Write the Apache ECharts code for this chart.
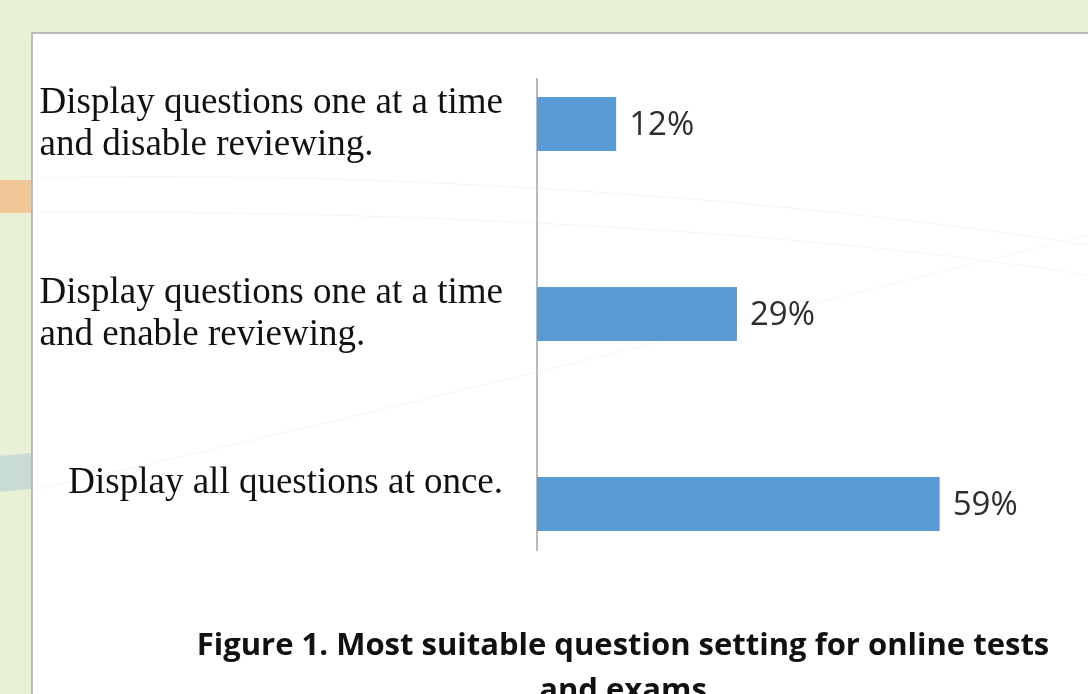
<!DOCTYPE html>
<html>
<head>
<meta charset="utf-8">
<script src="https://cdn.jsdelivr.net/npm/echarts@6/dist/echarts.min.js"></script>
<style>
  html, body { margin: 0; padding: 0; }
  #chart { width: 1088px; height: 694px; }
</style>
</head>
<body>
<div id="chart"></div>
<script>
// categories, top to bottom
var categories = [
    "Display questions one at a time\nand disable reviewing.",
    "Display questions one at a time\nand enable reviewing.",
    "Display all questions at once.\n"
];
// share of respondents (%)
var shares = [11.6, 29.3, 59.0];
var titleLines = ["Figure 1. Most suitable question setting for online tests", "and exams"];

var myChart = echarts.init(document.getElementById("chart"));

function richLabel(s) {
    return s.split("\n").map(function (l) { return "{a|" + (l || " ") + "}"; }).join("\n");
}

var option = {
    backgroundColor: "#e8f0d5",
    animation: false,
    graphic: [
        // slide panel
        { type: "rect", z: -10, shape: { x: 32, y: 33, width: 1070, height: 700 },
          style: { fill: "#ffffff", stroke: "#a6a6a6", lineWidth: 1.5 } },
        // side stripes
        { type: "rect", z: -10, shape: { x: 0, y: 180, width: 31, height: 33 },
          style: { fill: "#f1c797" } },
        { type: "polygon", z: -10, shape: { points: [[0, 456], [31, 453], [31, 489], [0, 492]] },
          style: { fill: "#c8dcd5" } },
        // faint decorative curves
        { type: "bezierCurve", z: -9, shape: { x1: 34, y1: 178, x2: 1088, y2: 245, cpx1: 400, cpy1: 170, cpx2: 800, cpy2: 200 },
          style: { stroke: "rgba(235,235,215,0.35)", lineWidth: 1.2, fill: null } },
        { type: "bezierCurve", z: -9, shape: { x1: 34, y1: 212, x2: 1088, y2: 275, cpx1: 400, cpy1: 210, cpx2: 800, cpy2: 230 },
          style: { stroke: "rgba(235,235,215,0.35)", lineWidth: 1.2, fill: null } },
        { type: "bezierCurve", z: -9, shape: { x1: 34, y1: 490, x2: 1088, y2: 235, cpx1: 350, cpy1: 420, cpx2: 750, cpy2: 320 },
          style: { stroke: "rgba(235,235,215,0.35)", lineWidth: 1.2, fill: null } },
        // category axis line
        { type: "line", z: 5, shape: { x1: 537, y1: 78, x2: 537, y2: 551 },
          style: { stroke: "#8c8c8c", lineWidth: 1.2 } },
        // caption
        { type: "text", z: 5, style: { text: titleLines[0], x: 623, y: 646, align: "center", verticalAlign: "middle",
            font: "bold 31px 'Open Sans', sans-serif", fill: "#111111" } },
        { type: "text", z: 5, style: { text: titleLines[1], x: 623, y: 691, align: "center", verticalAlign: "middle",
            font: "bold 31px 'Open Sans', sans-serif", fill: "#111111" } }
    ],
    grid: {
        left: 537,
        right: 5,
        top: 29,
        bottom: 95,
        containLabel: false
    },
    xAxis: {
        type: "value",
        min: 0,
        max: 80,
        show: false
    },
    yAxis: {
        type: "category",
        inverse: true,
        data: categories,
        axisLine: { show: false },
        axisTick: { show: false },
        axisLabel: {
            margin: 34,
            align: "right",
            formatter: function (v) { return richLabel(v); },
            rich: {
                a: {
                    align: "left",
                    fontFamily: "'Liberation Serif', serif",
                    fontSize: 37,
                    lineHeight: 42,
                    color: "#111111"
                }
            }
        }
    },
    series: [{
        type: "bar",
        data: shares,
        barWidth: 54,
        itemStyle: { color: "#5b9bd5" },
        label: {
            show: true,
            position: "right",
            distance: 13,
            offset: [0, 2],
            fontFamily: "'Open Sans', sans-serif",
            fontSize: 33,
            color: "#2e2e2e",
            formatter: function (p) { return Math.round(p.value) + "%"; }
        }
    }]
};

myChart.setOption(option);
window.addEventListener("resize", function () {
    myChart.resize();
});
</script>
</body>
</html>
